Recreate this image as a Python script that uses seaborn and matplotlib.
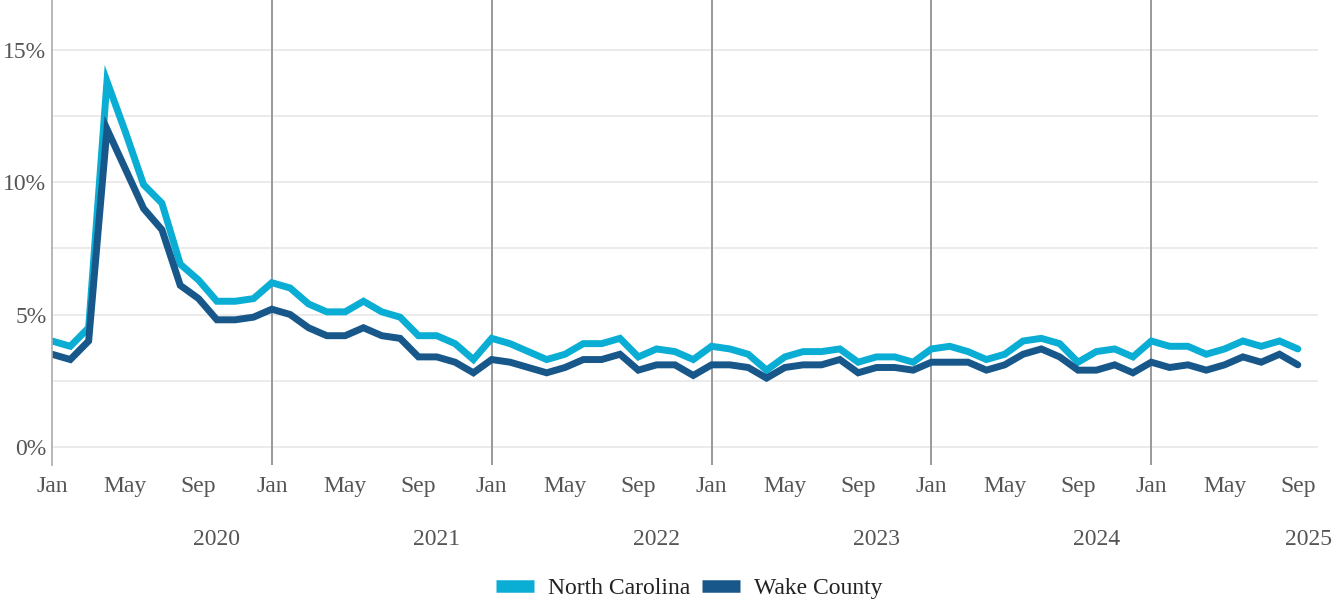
import matplotlib
matplotlib.use("Agg")
import matplotlib.pyplot as plt
import matplotlib.transforms as mtransforms
from matplotlib.lines import Line2D
import seaborn as sns
import pandas as pd
import numpy as np

# Monthly values Jan 2020 .. Sep 2025 (percent)
north_carolina = [
    4.0, 3.8, 4.5, 13.8, 11.9, 9.9, 9.2, 6.9, 6.3, 5.5, 5.5, 5.6,   # 2020
    6.2, 6.0, 5.4, 5.1, 5.1, 5.5, 5.1, 4.9, 4.2, 4.2, 3.9, 3.3,     # 2021
    4.1, 3.9, 3.6, 3.3, 3.5, 3.9, 3.9, 4.1, 3.4, 3.7, 3.6, 3.3,     # 2022
    3.8, 3.7, 3.5, 2.9, 3.4, 3.6, 3.6, 3.7, 3.2, 3.4, 3.4, 3.2,     # 2023
    3.7, 3.8, 3.6, 3.3, 3.5, 4.0, 4.1, 3.9, 3.2, 3.6, 3.7, 3.4,     # 2024
    4.0, 3.8, 3.8, 3.5, 3.7, 4.0, 3.8, 4.0, 3.7,                    # 2025
]
wake_county = [
    3.5, 3.3, 4.0, 12.0, 10.5, 9.0, 8.2, 6.1, 5.6, 4.8, 4.8, 4.9,  # 2020
    5.2, 5.0, 4.5, 4.2, 4.2, 4.5, 4.2, 4.1, 3.4, 3.4, 3.2, 2.8,     # 2021
    3.3, 3.2, 3.0, 2.8, 3.0, 3.3, 3.3, 3.5, 2.9, 3.1, 3.1, 2.7,     # 2022
    3.1, 3.1, 3.0, 2.6, 3.0, 3.1, 3.1, 3.3, 2.8, 3.0, 3.0, 2.9,     # 2023
    3.2, 3.2, 3.2, 2.9, 3.1, 3.5, 3.7, 3.4, 2.9, 2.9, 3.1, 2.8,     # 2024
    3.2, 3.0, 3.1, 2.9, 3.1, 3.4, 3.2, 3.5, 3.1,                    # 2025
]
series_names = ["North Carolina", "Wake County"]
series_colors = ["#0aadd3", "#17578a"]
month_tick_labels = ["Jan", "May", "Sep"]
year_labels = ["2020", "2021", "2022", "2023", "2024", "2025"]
y_ticks = [0, 5, 10, 15]
y_tick_labels = ["0%", "5%", "10%", "15%"]

n = len(north_carolina)
month_index = np.arange(n)
df = pd.DataFrame({
    "month": np.concatenate([month_index, month_index]),
    "rate": north_carolina + wake_county,
    "area": [series_names[0]] * n + [series_names[1]] * n,
})

sns.set_theme(style="white")
plt.rcParams["font.family"] = ["Liberation Serif", "DejaVu Serif"]

fig = plt.figure(figsize=(13.4, 6.0), dpi=100)
ax = fig.add_axes([52 / 1340, 135 / 600, (1318 - 52) / 1340, 465 / 600])

sns.lineplot(data=df, x="month", y="rate", hue="area", hue_order=series_names,
             palette=series_colors, linewidth=5.0, ax=ax, legend=False,
             solid_joinstyle="miter")

ax.set_xlim(0, 69.1)
ax.set_ylim(-0.68, 16.87)

# gridlines
for g in np.arange(0, 16, 2.5):
    ax.axhline(g, color="#e8e8e8", linewidth=1.2, zorder=0)
# year separators
for yr in range(1, 6):
    ax.axvline(12 * yr, color="#999999", linewidth=1.4, zorder=1)

for s in ["top", "right", "bottom"]:
    ax.spines[s].set_visible(False)
ax.spines["left"].set_color("#aaaaaa")
ax.spines["left"].set_linewidth(1.2)

xt = np.arange(0, n, 4)
ax.set_xticks(xt)
ax.set_xticklabels([month_tick_labels[i % 3] for i in range(len(xt))])
ax.set_yticks(y_ticks)
ax.set_yticklabels(y_tick_labels)
ax.tick_params(axis="x", length=0, pad=8, labelsize=17, labelcolor="#555555")
ax.tick_params(axis="y", length=0, pad=4, labelsize=17, labelcolor="#555555")
ax.set_xlabel("")
ax.set_ylabel("")

trans = mtransforms.blended_transform_factory(ax.transData, ax.transAxes)
year_pos = [9, 21, 33, 45, 57, 68.6]
for xp, lab in zip(year_pos, year_labels):
    ax.text(xp, -0.16, lab, transform=trans, ha="center", va="center",
            fontsize=17, color="#555555")

handles = [Line2D([0], [0], color=c, linewidth=9, solid_capstyle="butt")
           for c in series_colors]
fig.legend(handles, series_names, loc="center", bbox_to_anchor=(689 / 1340, 1 - 588 / 600),
           ncol=2, frameon=False, fontsize=17, handlelength=1.6, columnspacing=0.5,
           handletextpad=0.6, labelcolor="#222222")

fig.savefig("out.png", dpi=100)
